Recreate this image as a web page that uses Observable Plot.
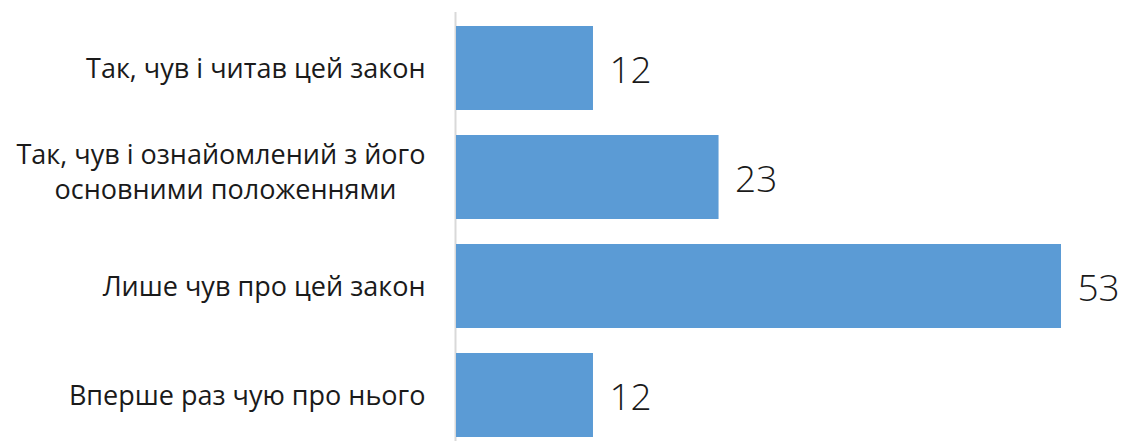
<!DOCTYPE html>
<html>
<head>
<meta charset="utf-8">
<script src="https://cdn.jsdelivr.net/npm/d3@7"></script>
<script src="https://cdn.jsdelivr.net/npm/@observablehq/plot@0.6"></script>
<style>
  html, body { margin: 0; padding: 0; background: #ffffff; }
  #chart svg { display: block; }
</style>
</head>
<body>
<div id="chart"></div>
<script>
const categories = [
  "Так, чув і читав цей закон",
  "Так, чув і ознайомлений з його основними положеннями",
  "Лише чув про цей закон",
  "Вперше раз чую про нього"
];
const values = [12, 23, 53, 12];
const labelLines = [
  ["Так, чув і читав цей закон"],
  ["Так, чув і ознайомлений з його", "основними положеннями"],
  ["Лише чув про цей закон"],
  ["Вперше раз чую про нього"]
];

const data = categories.map((c, i) => ({category: c, value: values[i]}));
const lines = [];
categories.forEach((c, i) => {
  const ls = labelLines[i];
  ls.forEach((t, j) => lines.push({category: c, text: t, line: j, count: ls.length}));
});
const single = lines.filter(d => d.count === 1);
const first = lines.filter(d => d.count > 1 && d.line === 0);
const second = lines.filter(d => d.count > 1 && d.line === 1);

const font = "'Open Sans', 'Segoe UI', sans-serif";
const labelStyle = {fontSize: 27, fill: "#1a1a1a", fontFamily: font, fontWeight: 400, textAnchor: "end", lineAnchor: "middle"};

const chart = Plot.plot({
  width: 1122,
  height: 441,
  marginLeft: 456,
  marginRight: 61,
  marginTop: 12,
  marginBottom: 0,
  style: {fontFamily: font, background: "#ffffff"},
  x: {domain: [0, 53], axis: null},
  y: {domain: categories, range: [11.5, 451.5], paddingInner: 0.227, paddingOuter: 0.114, axis: null},
  marks: [
    Plot.ruleX([0], {stroke: "#d9d9d9", strokeWidth: 2, dx: -1}),
    Plot.barX(data, {x: "value", y: "category", fill: "#5b9bd5"}),
    Plot.text(data, {x: "value", y: "category", text: d => String(d.value), textAnchor: "start", lineAnchor: "middle", dx: 16, dy: 3, fontSize: 37, fontWeight: 300, fill: "#1a1a1a", fontFamily: font}),
    Plot.text(single, {x: () => 0, y: "category", text: "text", dx: -31, dy: 1, ...labelStyle}),
    Plot.text(first, {x: () => 0, y: "category", text: "text", dx: -31, dy: -22, ...labelStyle}),
    Plot.text(second, {x: () => 0, y: "category", text: "text", dx: -60, dy: 13, ...labelStyle})
  ]
});
document.getElementById("chart").appendChild(chart);
</script>
</body>
</html>
